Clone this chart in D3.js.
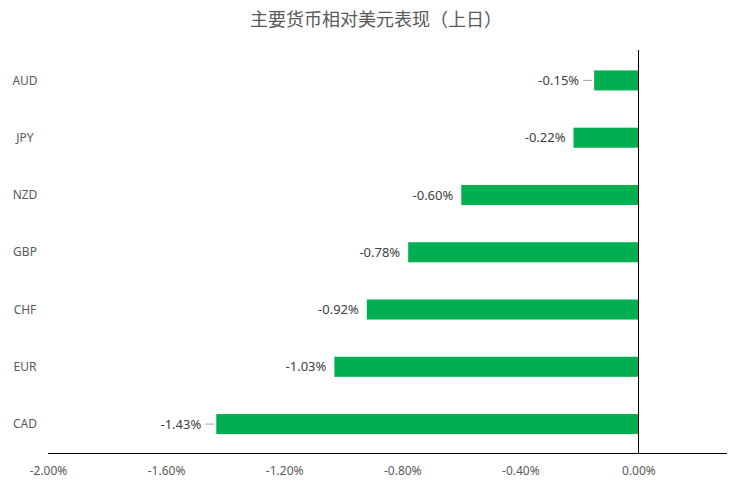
<!DOCTYPE html>
<html lang="zh">
<head>
	<meta charset="UTF-8">
	<title>主要货币相对美元表现</title>
	<style>
		body { margin: 0; background: #fff; }
		text { font-family: "Noto Sans", "Noto Sans CJK SC", sans-serif; }
	</style>
</head>
<body>

	<script src="https://cdn.jsdelivr.net/npm/d3@7/dist/d3.min.js"></script>

	<script type="text/javascript">

		var currencies = [ "AUD", "JPY", "NZD", "GBP", "CHF", "EUR", "CAD" ];
		var changes = [ -0.15, -0.22, -0.60, -0.78, -0.92, -1.03, -1.43 ];
		var tickValues = [ -2.0, -1.6, -1.2, -0.8, -0.4, 0.0 ];
		// labels that Excel pushed off with a little leader line
		var withLeader = [ "AUD", "CAD" ];

		var width = 752,
			height = 491;

		var plotLeft = 48, plotRight = 727,
			plotTop = 50, plotBottom = 453;

		var barColor = "#00b050",
			textColor = "#595959";

		var svg = d3.select( "body" )
					.append( "svg" )
					.attr( "width", width )
					.attr( "height", height );

		var x = d3.scaleLinear()
				.domain( [ -2.0, 0.30 ] )
				.range( [ plotLeft, plotRight ] );

		var y = d3.scaleBand()
				.domain( currencies )
				.range( [ plotTop + 1.5, plotBottom ] )
				.paddingInner( 0.65 )
				.paddingOuter( 0.33 );

		var data = currencies.map( function( c, i ) {
			return { name: c, value: changes[ i ] };
		});

		// title
		svg.append( "text" )
			.attr( "x", 376 )
			.attr( "y", 26 )
			.attr( "text-anchor", "middle" )
			.style( "font-family", "'Noto Sans CJK SC', sans-serif" )
			.style( "font-size", "18px" )
			.style( "fill", textColor )
			.text( "主要货币相对美元表现（上日）" );

		// bars
		svg.selectAll( "rect.bar" )
			.data( data )
			.enter()
			.append( "rect" )
			.attr( "class", "bar" )
			.attr( "x", function(d) { return x( d.value ); } )
			.attr( "y", function(d) { return y( d.name ); } )
			.attr( "width", function(d) { return x( 0 ) - x( d.value ); } )
			.attr( "height", y.bandwidth() )
			.style( "fill", barColor );

		// leader lines
		svg.selectAll( "line.leader" )
			.data( data.filter( function(d) { return withLeader.indexOf( d.name ) >= 0; } ) )
			.enter()
			.append( "line" )
			.attr( "class", "leader" )
			.attr( "x1", function(d) { return x( d.value ) - 11; } )
			.attr( "x2", function(d) { return x( d.value ) - 2; } )
			.attr( "y1", function(d) { return y( d.name ) + y.bandwidth() / 2; } )
			.attr( "y2", function(d) { return y( d.name ) + y.bandwidth() / 2; } )
			.style( "stroke", "#a6a6a6" )
			.style( "stroke-width", 1 );

		// value labels
		svg.selectAll( "text.value" )
			.data( data )
			.enter()
			.append( "text" )
			.attr( "class", "value" )
			.attr( "x", function(d) {
				var off = withLeader.indexOf( d.name ) >= 0 ? 15 : 8;
				return x( d.value ) - off;
			})
			.attr( "y", function(d) { return y( d.name ) + y.bandwidth() / 2; } )
			.attr( "dy", "0.35em" )
			.attr( "text-anchor", "end" )
			.style( "font-size", "13px" )
			.style( "fill", "#404040" )
			.text( function(d) { return d.value.toFixed( 2 ) + "%"; } );

		// category labels
		svg.selectAll( "text.cat" )
			.data( currencies )
			.enter()
			.append( "text" )
			.attr( "class", "cat" )
			.attr( "x", 25 )
			.attr( "y", function(d) { return y( d ) + y.bandwidth() / 2; } )
			.attr( "dy", "0.35em" )
			.attr( "text-anchor", "middle" )
			.style( "font-size", "12px" )
			.style( "fill", textColor )
			.text( function(d) { return d; } );

		// x axis
		var xAxis = d3.axisBottom( x )
				.tickValues( tickValues )
				.tickSize( 0 )
				.tickPadding( 13 )
				.tickFormat( function(d) { return d.toFixed( 2 ) + "%"; } );

		var gx = svg.append( "g" )
				.attr( "transform", "translate(0," + plotBottom + ")" )
				.call( xAxis );

		gx.select( ".domain" )
			.attr( "d", "M" + plotLeft + ",0.5H" + plotRight )
			.style( "stroke", "#000" );

		gx.selectAll( "text" )
			.style( "font-family", "'Noto Sans', sans-serif" )
			.style( "font-size", "12px" )
			.style( "fill", textColor );

		// zero line (category axis)
		svg.append( "line" )
			.attr( "x1", Math.round( x( 0 ) ) + 0.5 )
			.attr( "x2", Math.round( x( 0 ) ) + 0.5 )
			.attr( "y1", plotTop )
			.attr( "y2", plotBottom )
			.style( "stroke", "#000" )
			.style( "stroke-width", 1 );

	</script>
</body>
</html>
